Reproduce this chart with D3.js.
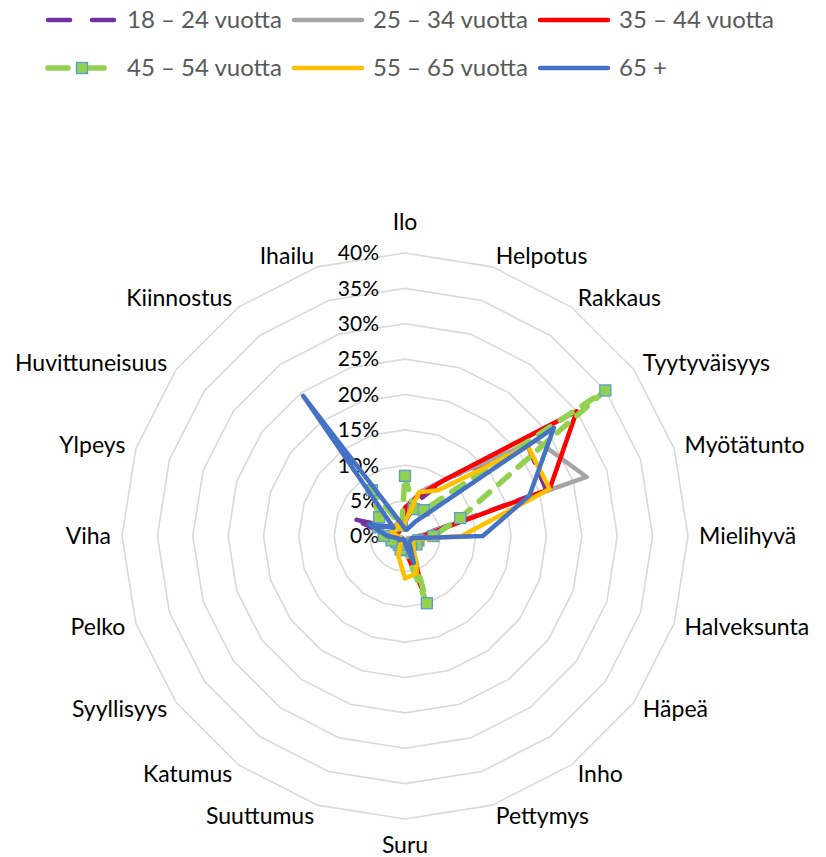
<!DOCTYPE html>
<html>
<head>
<meta charset="utf-8">
<script src="https://cdn.jsdelivr.net/npm/d3@7"></script>
<style>
  body { margin: 0; background: #fff; }
  svg text { font-family: Lato, "Open Sans", sans-serif; }
</style>
</head>
<body>
<div id="chart"></div>
<script>
var categories = ["Ilo", "Helpotus", "Rakkaus", "Tyytyväisyys", "Myötätunto", "Mielihyvä",
  "Halveksunta", "Häpeä", "Inho", "Pettymys", "Suru", "Suuttumus", "Katumus",
  "Syyllisyys", "Pelko", "Viha", "Ylpeys", "Huvittuneisuus", "Kiinnostus", "Ihailu"]

var ticks = [0, 5, 10, 15, 20, 25, 30, 35, 40]

// values in %
var age18_24 = [2, 5, 10, 21.5, 21, 2, 1, 1, 1, 4, 1, 1, 0.5, 0.5, 1, 2, 7.7, 2, 2, 1]
var age25_34 = [3, 6.5, 10, 23, 27, 2, 1, 0.5, 1, 3, 1.5, 1, 0.5, 0.5, 1, 1, 2, 1.5, 2, 1]
var age35_44 = [4, 6, 10, 30, 21.5, 2.5, 1, 1, 1.5, 8, 2, 1, 0.5, 0.5, 1, 1, 1.5, 1, 2, 1]
var age45_54 = [8.5, 4, 4.5, 35, 8.2, 4, 2, 2, 1.5, 10, 2, 2, 1.5, 1.5, 2, 3, 4, 4.5, 8, 1.5]
var age55_65 = [2, 6.5, 8, 21.5, 21.5, 8, 1.5, 1, 2, 5.5, 6, 3, 1, 0.5, 1, 1, 2, 1.5, 2, 1]
var age65 = [1, 1, 2.5, 26, 18.5, 11, 1, 1, 1, 4, 1, 0.5, 0.5, 1, 1, 2.5, 5.3, 2, 24.5, 2]

var series = [
  { name: "18 – 24 vuotta", values: age18_24, color: "#7030a0", dash: "16,14", width: 4.5 },
  { name: "25 – 34 vuotta", values: age25_34, color: "#a5a5a5", dash: null, width: 4.5 },
  { name: "35 – 44 vuotta", values: age35_44, color: "#ff0000", dash: null, width: 4.5 },
  { name: "45 – 54 vuotta", values: age45_54, color: "#92d050", dash: "14,12", width: 5.5, marker: true },
  { name: "55 – 65 vuotta", values: age55_65, color: "#ffc000", dash: null, width: 4.5 },
  { name: "65 +", values: age65, color: "#4472c4", dash: null, width: 4.5 }
]

var width = 826, height = 857
var cx = 405, cy = 536

var svg = d3.select("#chart").append("svg")
  .attr("width", width).attr("height", height)

var r = d3.scaleLinear().domain([0, 40]).range([0, 283])
var angle = d3.scaleLinear().domain([0, categories.length]).range([0, 2 * Math.PI])

var g = svg.append("g").attr("transform", "translate(" + cx + "," + cy + ")")

// grid rings
var ring = d3.lineRadial()
  .angle(function (d, i) { return angle(i) })
  .radius(function (d) { return r(d) })
  .curve(d3.curveLinearClosed)

g.append("g").attr("class", "grid")
  .selectAll("path")
  .data(ticks.filter(function (t) { return t > 0 }))
  .enter().append("path")
    .attr("d", function (t) { return ring(categories.map(function () { return t })) })
    .attr("fill", "none")
    .attr("stroke", "#d9d9d9")
    .attr("stroke-width", 1.6)

// tick labels
g.append("g").attr("class", "ticks")
  .selectAll("text")
  .data(ticks)
  .enter().append("text")
    .attr("x", -26)
    .attr("y", function (t) { return -r(t) })
    .attr("dy", "0.35em")
    .attr("text-anchor", "end")
    .attr("font-size", 21)
    .attr("fill", "#000")
    .text(function (t) { return t + "%" })

// category labels
g.append("g").attr("class", "cats")
  .selectAll("text")
  .data(categories)
  .enter().append("text")
    .each(function (d, i) {
      var a = angle(i), s = Math.sin(a), c = -Math.cos(a)
      var rr = r(40) + 11
      var x = s * rr, y = c * rr
      var anchor = Math.abs(s) < 0.01 ? "middle" : (s > 0 ? "start" : "end")
      if (Math.abs(s) < 0.01) y += c > 0 ? 15 : -20
      d3.select(this)
        .attr("x", x).attr("y", y)
        .attr("dy", "0.35em")
        .attr("text-anchor", anchor)
    })
    .attr("font-size", 23)
    .attr("fill", "#000")
    .text(function (d) { return d })

// series
var line = d3.lineRadial()
  .angle(function (d, i) { return angle(i) })
  .radius(function (d) { return r(d) })
  .curve(d3.curveLinearClosed)

var lines = g.append("g").attr("class", "series")
series.forEach(function (s) {
  lines.append("path")
    .attr("d", line(s.values))
    .attr("fill", "none")
    .attr("stroke", s.color)
    .attr("stroke-width", s.width)
    .attr("stroke-linejoin", "round")
    .attr("stroke-linecap", "round")
    .attr("stroke-dasharray", s.dash)
  if (s.marker) {
    lines.append("g").selectAll("rect")
      .data(s.values)
      .enter().append("rect")
        .attr("x", function (d, i) { return Math.sin(angle(i)) * r(d) - 5.5 })
        .attr("y", function (d, i) { return -Math.cos(angle(i)) * r(d) - 5.5 })
        .attr("width", 11).attr("height", 11)
        .attr("fill", s.color)
        .attr("stroke", "#5b9bd5")
        .attr("stroke-width", 1.3)
  }
})

// legend
var legend = svg.append("g").attr("class", "legend")
series.forEach(function (s, i) {
  var lx = 48 + (i % 3) * 246, ly = 20 + Math.floor(i / 3) * 48
  var item = legend.append("g").attr("transform", "translate(" + lx + "," + ly + ")")
  item.append("line")
    .attr("x1", 0).attr("x2", 68).attr("y1", 0).attr("y2", 0)
    .attr("stroke", s.color)
    .attr("stroke-width", s.width)
    .attr("stroke-linecap", "round")
    .attr("stroke-dasharray", s.dash ? (s.marker ? "20,16" : "22,22") : null)
  if (s.marker) {
    item.append("rect")
      .attr("x", 34 - 5.5).attr("y", -5.5).attr("width", 11).attr("height", 11)
      .attr("fill", s.color).attr("stroke", "#5b9bd5").attr("stroke-width", 1.3)
  }
  item.append("text")
    .attr("x", 79).attr("y", 0).attr("dy", "0.35em")
    .attr("font-size", 24)
    .attr("fill", "#595959")
    .text(s.name)
})
</script>
</body>
</html>
